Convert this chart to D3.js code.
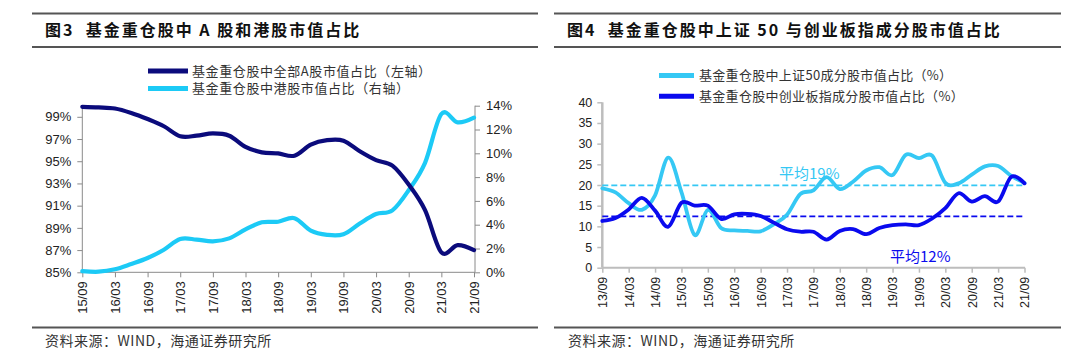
<!DOCTYPE html>
<html><head><meta charset="utf-8">
<script src="https://cdn.jsdelivr.net/npm/d3@7/dist/d3.min.js"></script>
<style>
html,body{margin:0;padding:0;background:#fff;}
svg{display:block;}
text{font-family:"Liberation Sans",Arial,sans-serif;}
.cjk{font-family:"Noto Sans CJK SC","Liberation Sans",sans-serif;}
</style></head>
<body>
<svg id="c" width="1080" height="363"></svg>
<script>
// ---------- Data: Figure 3 ----------
const leftCats = ["15/09","15/12","16/03","16/06","16/09","16/12","17/03","17/06","17/09","17/12","18/03","18/06","18/09","18/12","19/03","19/06","19/09","19/12","20/03","20/06","20/09","20/12","21/03","21/06","21/09"];
const aShare = [99.9,99.85,99.75,99.35,98.8,98.15,97.25,97.3,97.5,97.3,96.3,95.8,95.7,95.5,96.5,96.9,96.85,95.9,95.1,94.6,92.9,90.6,86.8,87.45,87.0];
const hkShare = [0.1,0.05,0.25,0.7,1.2,1.9,2.8,2.75,2.6,2.85,3.6,4.2,4.25,4.55,3.5,3.15,3.2,4.1,4.9,5.2,6.9,9.2,13.3,12.6,13.0];
const leftTicksL = [85,87,89,91,93,95,97,99];
const leftTicksR = [0,2,4,6,8,10,12,14];
const leftXTicks = ["15/09","16/03","16/09","17/03","17/09","18/03","18/09","19/03","19/09","20/03","20/09","21/03","21/09"];
const leftLegend = ["基金重仓股中全部A股市值占比（左轴）","基金重仓股中港股市值占比（右轴）"];

// ---------- Data: Figure 4 ----------
const rightCats = ["13/09","13/12","14/03","14/06","14/09","14/12","15/03","15/06","15/09","15/12","16/03","16/06","16/09","16/12","17/03","17/06","17/09","17/12","18/03","18/06","18/09","18/12","19/03","19/06","19/09","19/12","20/03","20/06","20/09","20/12","21/03","21/06","21/09"];
const sz50 = [19.2,18.2,15.6,14.0,17.5,26.6,18.3,7.9,14.0,9.6,9.0,8.9,8.8,10.5,12.8,17.8,18.7,21.9,19.0,20.8,23.5,24.3,22.4,27.3,26.5,27.1,20.5,20.4,22.5,24.5,24.6,22.2,20.5];
const gem = [11.3,12.0,14.1,16.9,13.8,9.9,15.7,15.0,15.0,11.8,12.9,13.0,12.5,10.9,9.3,8.7,8.7,6.8,8.9,9.35,8.1,9.6,10.3,10.5,10.3,11.9,14.4,18.0,16.0,17.3,16.0,22.0,20.4];
const avgValues = [19.9,12.4];
const avgLabels = ["平均19%","平均12%"];
const rightYTicks = [0,5,10,15,20,25,30,35,40];
const rightXTicks = ["13/09","14/03","14/09","15/03","15/09","16/03","16/09","17/03","17/09","18/03","18/09","19/03","19/09","20/03","20/09","21/03","21/09"];
const rightLegend = ["基金重仓股中上证50成分股市值占比（%）","基金重仓股中创业板指成分股市值占比（%）"];

const titles = ["图3  基金重仓股中 A 股和港股市值占比","图4  基金重仓股中上证 50 与创业板指成分股市值占比"];
const sourceText = "资料来源：WIND，海通证券研究所";

const svg = d3.select("#c");
const NAVY = "#0b0b7c", CYAN = "#1ccaf6", CYAN2 = "#35c8f4", BLUE = "#0a0aee";
const curve = d3.curveCardinal.tension(0);

// frames: title rules and source
function frame(x0, x1, title, tx, sx){
  [13.5, 47].forEach(y => svg.append("line").attr("x1",x0).attr("x2",x1).attr("y1",y).attr("y2",y)
    .attr("stroke","#555").attr("stroke-width",2));
  svg.append("line").attr("x1",x0).attr("x2",x1).attr("y1",327.5).attr("y2",327.5)
    .attr("stroke","#555").attr("stroke-width",2);
  svg.append("text").attr("class","cjk").attr("x",tx).attr("y",36).attr("font-size",16)
    .attr("font-weight","bold").attr("fill","#111").attr("letter-spacing",2)
    .attr("xml:space","preserve").text(title);
  svg.append("text").attr("class","cjk").attr("x",sx).attr("y",346).attr("font-size",14)
    .attr("letter-spacing",0.5).attr("fill","#333").text(sourceText);
}
frame(32, 538, titles[0], 45, 45);
frame(554, 1061, titles[1], 567, 568);

// ---------- Figure 3 ----------
{
  const x = d3.scaleLinear().domain([0, leftCats.length-1]).range([82.3, 474]);
  const yL = d3.scaleLinear().domain([85,100]).range([272.3,105.7]);
  const yR = d3.scaleLinear().domain([0,14]).range([272.3,105.7]);
  const g = svg.append("g");
  const axL = g.append("g").attr("transform","translate(82.3,0)")
    .call(d3.axisLeft(yL).tickValues(leftTicksL).tickFormat(d=>d+"%").tickSize(5).tickPadding(6));
  const axR = g.append("g").attr("transform","translate(475,0)")
    .call(d3.axisRight(yR).tickValues(leftTicksR).tickFormat(d=>d+"%").tickSize(5).tickPadding(6));
  const tickIdx = leftXTicks.map(t => leftCats.indexOf(t));
  const axB = g.append("g").attr("transform","translate(0,272.3)")
    .call(d3.axisBottom(x).tickValues(tickIdx).tickFormat(i=>leftCats[i]).tickSize(5).tickSizeOuter(0));
  axB.selectAll("text").attr("transform","rotate(-90)").attr("text-anchor","end")
    .attr("x",-9).attr("y",0).attr("dy","0.35em");
  [axL,axR,axB].forEach(a=>{
    a.selectAll("path,line").attr("stroke","#8a8a8a");
    a.selectAll("text").attr("font-size",13).attr("fill","#222")
      .attr("font-family","'Liberation Sans',Arial,sans-serif");
  });
  axL.select(".domain").attr("d","M0,105.7V272.3");
  axR.select(".domain").attr("d","M0,105.7V272.3");
  axB.select(".domain").attr("d","M82.3,0H475");

  g.append("path").datum(hkShare).attr("fill","none").attr("stroke",CYAN).attr("stroke-width",4.2)
    .attr("stroke-linecap","round")
    .attr("d", d3.line().x((d,i)=>x(i)).y(d=>yR(d)).curve(curve));
  g.append("path").datum(aShare).attr("fill","none").attr("stroke",NAVY).attr("stroke-width",4.2)
    .attr("stroke-linecap","round")
    .attr("d", d3.line().x((d,i)=>x(i)).y(d=>yL(d)).curve(curve));

  // legend
  const cols = [NAVY, CYAN];
  leftLegend.forEach((t,i)=>{
    const y = 71 + i*17.5;
    g.append("line").attr("x1",148).attr("x2",188).attr("y1",y).attr("y2",y)
      .attr("stroke",cols[i]).attr("stroke-width",5);
    g.append("text").attr("class","cjk").attr("x",192).attr("y",y).attr("dy","0.36em")
      .attr("font-size",13).attr("letter-spacing",0.6).attr("fill","#333").text(t);
  });
}

// ---------- Figure 4 ----------
{
  const x = d3.scaleLinear().domain([0, rightCats.length-1]).range([602.3, 1024.5]);
  const y = d3.scaleLinear().domain([0,40]).range([267.7,102.3]);
  const g = svg.append("g");
  const axL = g.append("g").attr("transform","translate(602.3,0)")
    .call(d3.axisLeft(y).tickValues(rightYTicks).tickSize(5).tickPadding(5));
  const tickIdx = rightXTicks.map(t => rightCats.indexOf(t));
  const axB = g.append("g").attr("transform","translate(0,267.7)")
    .call(d3.axisBottom(x).tickValues(tickIdx).tickFormat(i=>rightCats[i]).tickSize(5).tickSizeOuter(0));
  axB.selectAll("text").attr("transform","rotate(-90)").attr("text-anchor","end")
    .attr("x",-9).attr("y",0).attr("dy","0.35em");
  [axL,axB].forEach(a=>{
    a.selectAll("path,line").attr("stroke","#bdbdbd").attr("stroke-width",1.5);
    a.selectAll("text").attr("font-size",12.5).attr("fill","#222")
      .attr("font-family","'Liberation Sans',Arial,sans-serif");
  });
  axL.select(".domain").attr("d","M0,102.3V267.7").attr("stroke-width",2.5);
  axB.select(".domain").attr("d","M602.3,0H1025").attr("stroke-width",2);

  // average lines
  const avgCols = [CYAN2, BLUE];
  avgValues.forEach((v,i)=>{
    g.append("line").attr("x1",602.3).attr("x2",1025).attr("y1",y(v)).attr("y2",y(v))
      .attr("stroke",avgCols[i]).attr("stroke-width",1.8).attr("stroke-dasharray","6,3");
  });

  g.append("path").datum(sz50).attr("fill","none").attr("stroke",CYAN2).attr("stroke-width",3.8)
    .attr("stroke-linecap","round")
    .attr("d", d3.line().x((d,i)=>x(i)).y(d=>y(d)).curve(curve));
  g.append("path").datum(gem).attr("fill","none").attr("stroke",BLUE).attr("stroke-width",3.8)
    .attr("stroke-linecap","round")
    .attr("d", d3.line().x((d,i)=>x(i)).y(d=>y(d)).curve(curve));

  // average labels
  g.append("text").attr("class","cjk").attr("x",779).attr("y",178.5).attr("font-size",15)
    .attr("fill",CYAN2).text(avgLabels[0]);
  g.append("text").attr("class","cjk").attr("x",890).attr("y",261.5).attr("font-size",15)
    .attr("fill",BLUE).text(avgLabels[1]);

  // legend
  rightLegend.forEach((t,i)=>{
    const yy = 75.5 + i*20.8;
    g.append("line").attr("x1",659).attr("x2",694).attr("y1",yy).attr("y2",yy)
      .attr("stroke",avgCols[i]).attr("stroke-width",5);
    g.append("text").attr("class","cjk").attr("x",699).attr("y",yy).attr("dy","0.36em")
      .attr("font-size",13).attr("letter-spacing",0.3).attr("fill","#333").text(t);
  });
}
</script>
</body></html>
